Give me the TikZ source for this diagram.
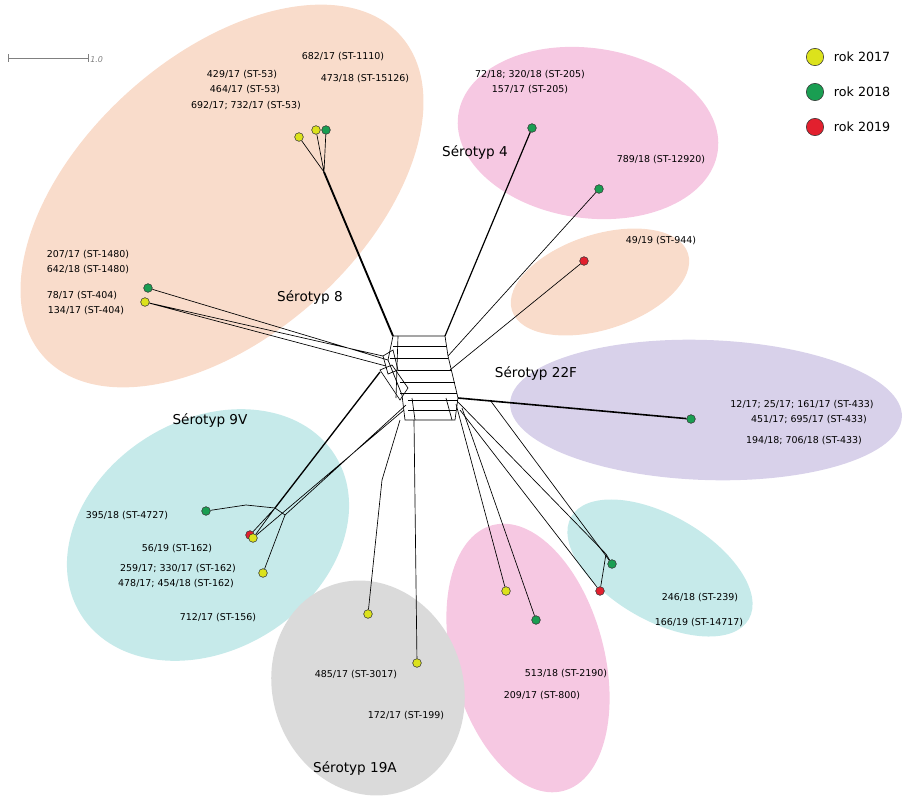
\documentclass[tikz,border=0pt]{standalone}
\usepackage{fontspec}
\setmainfont{DejaVu Sans}
\usetikzlibrary{shapes.geometric}
\definecolor{peach}{HTML}{F9DCCB}
\definecolor{rose}{HTML}{F6C8E2}
\definecolor{lilac}{HTML}{D8D1EA}
\definecolor{aqua}{HTML}{C6EAEA}
\definecolor{ash}{HTML}{DADADA}
\definecolor{y17}{HTML}{DCE21C}
\definecolor{g18}{HTML}{1A9E52}
\definecolor{r19}{HTML}{E2202E}
\tikzset{
    cloud/.style={ellipse, draw=none, inner sep=0pt},
    leaf/.style={circle, draw=black!80, line width=0.4pt, minimum size=6.5pt, inner sep=0pt},
    iso/.style={font=\fontsize{7.1}{8}\selectfont, inner sep=0pt},
    sero/.style={font=\fontsize{10.2}{12}\selectfont, inner sep=0pt},
    net/.style={line width=0.5pt},
}
\begin{document}
\begin{tikzpicture}[x=0.75pt,y=-0.75pt]
\useasboundingbox (0,0) rectangle (915,800);

% serotype clouds
\node[cloud, fill=peach, minimum width=480*0.75pt, minimum height=280*0.75pt, rotate=42] (c8) at (222,196) {};
\node[cloud, fill=rose, minimum width=262*0.75pt, minimum height=170*0.75pt, rotate=-8] (c4) at (588,133) {};
\node[cloud, fill=peach, minimum width=185*0.75pt, minimum height=95*0.75pt, rotate=18] (c944) at (600,282) {};
\node[cloud, fill=lilac, minimum width=392*0.75pt, minimum height=140*0.75pt, rotate=-2] (c22) at (706,410) {};
\node[cloud, fill=aqua, minimum width=300*0.75pt, minimum height=230*0.75pt, rotate=32] (c9) at (208,535) {};
\node[cloud, fill=aqua, minimum width=205*0.75pt, minimum height=105*0.75pt, rotate=-30] (c239) at (660,568) {};
\node[cloud, fill=rose, minimum width=275*0.75pt, minimum height=152*0.75pt, rotate=-75] (c800) at (528,658) {};
\node[cloud, fill=ash, minimum width=218*0.75pt, minimum height=190*0.75pt, rotate=-70] (c19) at (368,688) {};

% network core
\coordinate (t1) at (393,336);
\coordinate (t2) at (445,336);
\coordinate (b1) at (405,420);
\coordinate (b2) at (455,420);
\draw[net] (t1) -- (t2) -- (448,356) -- (458,398) -- (b2) -- (b1) -- (402,395) -- (388,360) -- cycle;
\foreach \yy/\xa/\xb in {346/393/446, 358/390/448, 370/398/452, 382/400/455, 393/400/457, 400/408/458, 410/408/456}
    \draw[net] (\xa,\yy) -- (\xb,\yy);
\draw[net] (398,336) -- (396,398) (412,398) -- (415,420) (446,398) -- (452,420);
\draw[net] (383,356) -- (393,350) -- (398,370) -- (388,374) -- cycle;
\draw[net] (380,370) -- (392,365) -- (408,388) -- (400,400) -- cycle;

% isolates
\node[leaf, fill=y17] (i429) at (299,137) {};
\node[leaf, fill=y17] (i692) at (316,130) {};
\node[leaf, fill=g18] (i682) at (326,130) {};
\node[leaf, fill=g18] (i207) at (148,288) {};
\node[leaf, fill=y17] (i78) at (145,302) {};
\node[leaf, fill=g18] (i72) at (532,128) {};
\node[leaf, fill=g18] (i789) at (599,189) {};
\node[leaf, fill=r19] (i49) at (584,261) {};
\node[leaf, fill=g18] (i12) at (691,419) {};
\node[leaf, fill=g18] (i246) at (612,564) {};
\node[leaf, fill=r19] (i166) at (600,591) {};
\node[leaf, fill=y17] (i209) at (506,591) {};
\node[leaf, fill=g18] (i513) at (536,620) {};
\node[leaf, fill=y17] (i172) at (417,663) {};
\node[leaf, fill=y17] (i485) at (368,614) {};
\node[leaf, fill=g18] (i395) at (206,511) {};
\node[leaf, fill=r19] (i56) at (250,535) {};
\node[leaf, fill=y17] (i259) at (253,538) {};
\node[leaf, fill=y17] (i712) at (263,573) {};

\coordinate (k8) at (324,172);
\coordinate (k9) at (275,508);
\coordinate (k239) at (606,554);
\draw[net] (i429) -- (k8) (i692) -- (k8) (i682) -- (k8);
\draw[line width=1.4pt] (k8) -- (t1);
\draw[net] (i207) -- (388,360) (i78) -- (386,366) (i78) -- (383,356);
\draw[line width=0.9pt] (i72) -- (t2);
\draw[net] (i789) -- (448,356) (i49) -- (450,370);
\draw[line width=1.2pt] (i12) -- (458,398);
\draw[net] (i246) -- (k239) -- (458,402) (i166) -- (k239) (k239) -- (i246);
\draw[net] (i166) -- (460,410) (i246) -- (490,400);
\draw[net] (i209) -- (456,404) (i513) -- (462,408);
\draw[net] (i172) -- (414,420) (i485) -- (382,480) -- (400,420);
\draw[net] (i395) -- (246,505) -- (k9);
\draw[net] (i56) -- (k9) (i259) -- (k9) (i712) -- (285,515);
\draw[line width=1pt] (k9) -- (380,372);
\draw[net] (i259) -- (404,410) (k9) -- (285,515) -- (406,405);

% serotype names
\node[sero] (s8) at (310,297) {Sérotyp 8};
\node[sero] (s4) at (475,152) {Sérotyp 4};
\node[sero] (s22) at (536,373) {Sérotyp 22F};
\node[sero] (s9) at (210,420) {Sérotyp 9V};
\node[sero] (s19) at (355,768) {Sérotyp 19A};

% isolate labels
\node[iso] (l682) at (343,57) {682/17 (ST-1110)};
\node[iso] (l473) at (365,79) {473/18 (ST-15126)};
\node[iso] (l429) at (242,75) {429/17 (ST-53)};
\node[iso] (l464) at (245,90) {464/17 (ST-53)};
\node[iso] (l692) at (246,106) {692/17; 732/17 (ST-53)};
\node[iso] (l72) at (530,75) {72/18; 320/18 (ST-205)};
\node[iso] (l157) at (530,90) {157/17 (ST-205)};
\node[iso] (l789) at (661,160) {789/18 (ST-12920)};
\node[iso] (l49) at (661,241) {49/19 (ST-944)};
\node[iso] (l207) at (88,255) {207/17 (ST-1480)};
\node[iso] (l642) at (88,270) {642/18 (ST-1480)};
\node[iso] (l78) at (82,296) {78/17 (ST-404)};
\node[iso] (l134) at (86,311) {134/17 (ST-404)};
\node[iso] (l12) at (802,405) {12/17; 25/17; 161/17 (ST-433)};
\node[iso] (l451) at (809,420) {451/17; 695/17 (ST-433)};
\node[iso] (l194) at (804,441) {194/18; 706/18 (ST-433)};
\node[iso] (l395) at (127,516) {395/18 (ST-4727)};
\node[iso] (l56) at (177,549) {56/19 (ST-162)};
\node[iso] (l259) at (178,569) {259/17; 330/17 (ST-162)};
\node[iso] (l478) at (176,584) {478/17; 454/18 (ST-162)};
\node[iso] (l712) at (218,618) {712/17 (ST-156)};
\node[iso] (l485) at (356,675) {485/17 (ST-3017)};
\node[iso] (l172) at (406,716) {172/17 (ST-199)};
\node[iso] (l513) at (566,674) {513/18 (ST-2190)};
\node[iso] (l209) at (542,696) {209/17 (ST-800)};
\node[iso] (l246) at (700,598) {246/18 (ST-239)};
\node[iso] (l166) at (699,623) {166/19 (ST-14717)};

% scale bar
\coordinate (sb0) at (8,58);
\coordinate (sb1) at (88,58);
\draw[gray, line width=0.4pt] (sb0) -- (sb1) (8,54) -- (8,62) (88,54) -- (88,62);
\node[iso, gray, font=\fontsize{6}{7}\selectfont\itshape, anchor=west] (sbl) at (90,60) {1.0};

% legend
\foreach \c/\yr [count=\k] in {y17/2017, g18/2018, r19/2019}
    \node[leaf, fill=\c, minimum size=13pt, label={[font=\fontsize{9.5}{11}\selectfont, xshift=4pt]right:rok \yr}] (key\k) at (815,22+35*\k) {};
\end{tikzpicture}
\end{document}
